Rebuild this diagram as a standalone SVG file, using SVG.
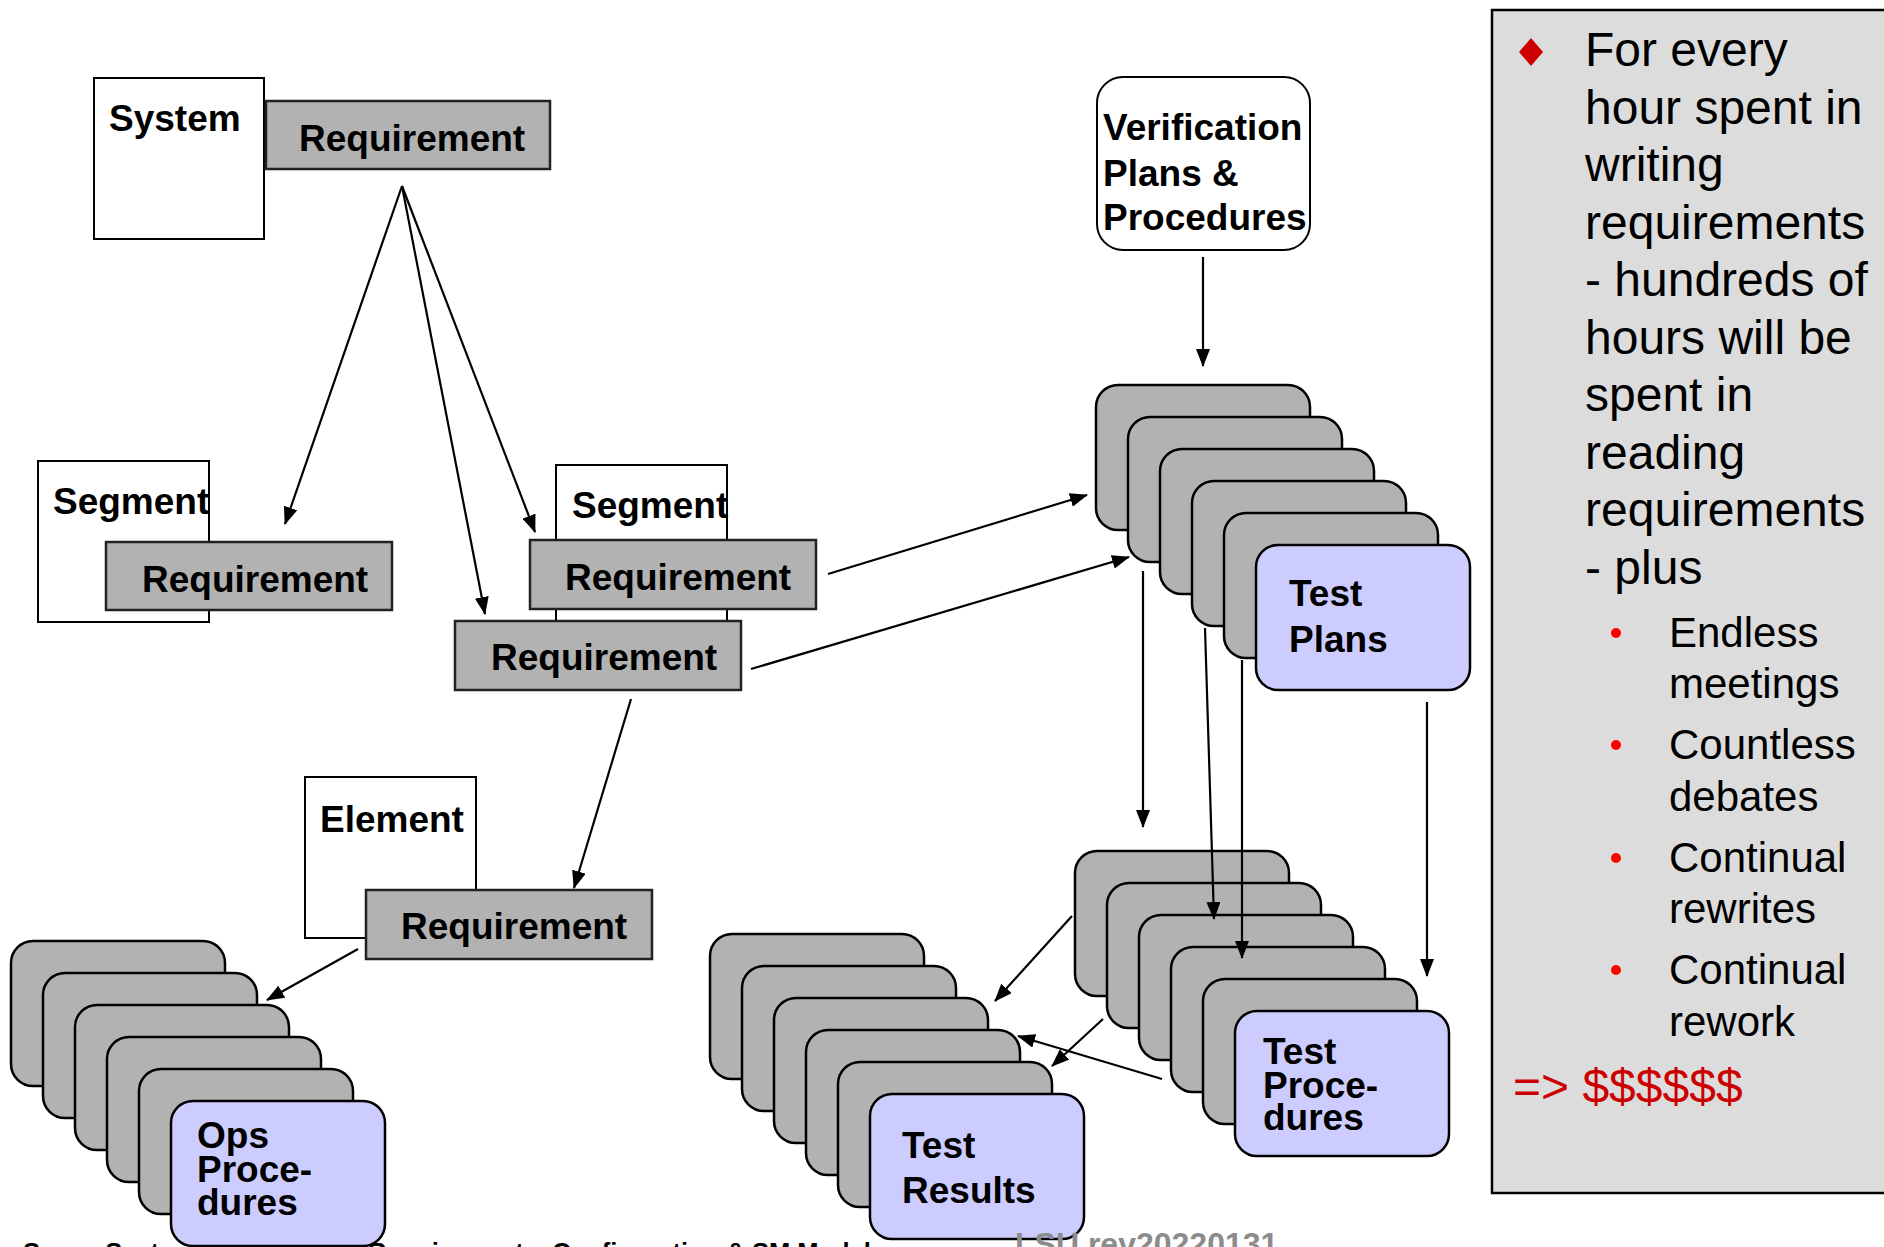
<svg xmlns="http://www.w3.org/2000/svg" width="1884" height="1247" viewBox="0 0 1884 1247">
<defs>
<style>
.lbl{font-family:"Liberation Sans",Arial,sans-serif;font-weight:bold;font-size:37px;fill:#000}
.wbox{fill:#fff;stroke:#000;stroke-width:2}
.req{fill:#b2b2b2;stroke:#222;stroke-width:2.5}
.card{fill:#b2b2b2;stroke:#000;stroke-width:2.5}
.blue{fill:#ccccff;stroke:#000;stroke-width:2.5}
.con{stroke:#000;stroke-width:2.2;fill:none;marker-end:url(#ah)}
.pt{font-family:"Liberation Sans",Arial,sans-serif;font-size:48px;fill:#000}
.st{font-family:"Liberation Sans",Arial,sans-serif;font-size:42px;fill:#000}
</style>
<marker id="ah" viewBox="0 0 18 14" refX="17" refY="7" markerWidth="18" markerHeight="14" markerUnits="userSpaceOnUse" orient="auto">
<path d="M0,0 L18,7 L0,14 z" fill="#000"/>
</marker>
</defs>
<rect width="1884" height="1247" fill="#fff"/>

<text id="footer" x="23" y="1261" style="font-family:'Liberation Sans',Arial,sans-serif;font-weight:bold;font-size:25.5px;fill:#000">Space Systems<tspan x="368">Requirements, Configuration &amp; SM Models</tspan></text>

<g id="panel">
<rect x="1492" y="10" width="410" height="1183" fill="#dcdcdc" stroke="#000" stroke-width="2.5"/>
<path d="M1531,38 L1543,52 L1531,66 L1519,52 z" fill="#cc0000"/>
<text class="pt" x="1585"><tspan x="1585" y="66">For every</tspan><tspan x="1585" y="124">hour spent in</tspan><tspan x="1585" y="181">writing</tspan><tspan x="1585" y="239">requirements</tspan><tspan x="1585" y="296">- hundreds of</tspan><tspan x="1585" y="354">hours will be</tspan><tspan x="1585" y="411">spent in</tspan><tspan x="1585" y="469">reading</tspan><tspan x="1585" y="526">requirements</tspan><tspan x="1585" y="584">- plus</tspan></text>
<circle cx="1616" cy="633" r="5" fill="#ff0000"/>
<circle cx="1616" cy="745" r="5" fill="#ff0000"/>
<circle cx="1616" cy="858" r="5" fill="#ff0000"/>
<circle cx="1616" cy="970" r="5" fill="#ff0000"/>
<text class="st"><tspan x="1669" y="647">Endless</tspan><tspan x="1669" y="698">meetings</tspan><tspan x="1669" y="759">Countless</tspan><tspan x="1669" y="811">debates</tspan><tspan x="1669" y="872">Continual</tspan><tspan x="1669" y="923">rewrites</tspan><tspan x="1669" y="984">Continual</tspan><tspan x="1669" y="1036">rework</tspan></text>
<text x="1513" y="1103" style="font-family:'Liberation Sans',Arial,sans-serif;font-size:48px;fill:#cc0000">=&gt; $$$$$$</text>
</g>

<g id="system">
<rect class="wbox" x="94" y="78" width="170" height="161"/>
<text class="lbl" x="109" y="131">System</text>
</g>
<g id="system-req">
<rect class="req" x="266" y="101" width="284" height="68"/>
<text class="lbl" x="299" y="151">Requirement</text>
</g>

<g id="segment-left">
<rect class="wbox" x="38" y="461" width="171" height="161"/>
<text class="lbl" x="53" y="514">Segment</text>
</g>
<g id="segment-left-req">
<rect class="req" x="106" y="542" width="286" height="68"/>
<text class="lbl" x="142" y="592">Requirement</text>
</g>

<g id="segment-right">
<rect class="wbox" x="556" y="465" width="171" height="161"/>
<text class="lbl" x="572" y="518">Segment</text>
</g>
<g id="segment-right-req">
<rect class="req" x="530" y="540" width="286" height="69"/>
<text class="lbl" x="565" y="590">Requirement</text>
</g>
<g id="segment-right-req2">
<rect class="req" x="455" y="621" width="286" height="69"/>
<text class="lbl" x="491" y="670">Requirement</text>
</g>

<g id="element">
<rect class="wbox" x="305" y="777" width="171" height="161"/>
<text class="lbl" x="320" y="832">Element</text>
</g>
<g id="element-req">
<rect class="req" x="366" y="890" width="286" height="69"/>
<text class="lbl" x="401" y="939">Requirement</text>
</g>

<g id="verification">
<rect x="1097" y="77" width="213" height="173" rx="26" fill="#fff" stroke="#000" stroke-width="2"/>
<text class="lbl"><tspan x="1103" y="140">Verification</tspan><tspan x="1103" y="186">Plans &amp;</tspan><tspan x="1103" y="230">Procedures</tspan></text>
</g>

<g id="test-plans">
<rect class="card" x="1096" y="385" width="214" height="145" rx="22"/>
<rect class="card" x="1128" y="417" width="214" height="145" rx="22"/>
<rect class="card" x="1160" y="449" width="214" height="145" rx="22"/>
<rect class="card" x="1192" y="481" width="214" height="145" rx="22"/>
<rect class="card" x="1224" y="513" width="214" height="145" rx="22"/>
<rect class="blue" x="1256" y="545" width="214" height="145" rx="22"/>
<text class="lbl"><tspan x="1289" y="606">Test</tspan><tspan x="1289" y="652">Plans</tspan></text>
</g>

<g id="test-procedures">
<rect class="card" x="1075" y="851" width="214" height="145" rx="22"/>
<rect class="card" x="1107" y="883" width="214" height="145" rx="22"/>
<rect class="card" x="1139" y="915" width="214" height="145" rx="22"/>
<rect class="card" x="1171" y="947" width="214" height="145" rx="22"/>
<rect class="card" x="1203" y="979" width="214" height="145" rx="22"/>
<rect class="blue" x="1235" y="1011" width="214" height="145" rx="22"/>
<text class="lbl"><tspan x="1263" y="1064">Test</tspan><tspan x="1263" y="1098">Proce-</tspan><tspan x="1263" y="1130">dures</tspan></text>
</g>

<g id="test-results">
<rect class="card" x="710" y="934" width="214" height="145" rx="22"/>
<rect class="card" x="742" y="966" width="214" height="145" rx="22"/>
<rect class="card" x="774" y="998" width="214" height="145" rx="22"/>
<rect class="card" x="806" y="1030" width="214" height="145" rx="22"/>
<rect class="card" x="838" y="1062" width="214" height="145" rx="22"/>
<rect class="blue" x="870" y="1094" width="214" height="145" rx="22"/>
<text class="lbl"><tspan x="902" y="1158">Test</tspan><tspan x="902" y="1203">Results</tspan></text>
</g>

<g id="ops-procedures">
<rect class="card" x="11" y="941" width="214" height="145" rx="22"/>
<rect class="card" x="43" y="973" width="214" height="145" rx="22"/>
<rect class="card" x="75" y="1005" width="214" height="145" rx="22"/>
<rect class="card" x="107" y="1037" width="214" height="145" rx="22"/>
<rect class="card" x="139" y="1069" width="214" height="145" rx="22"/>
<rect class="blue" x="171" y="1101" width="214" height="145" rx="22"/>
<text class="lbl"><tspan x="197" y="1148">Ops</tspan><tspan x="197" y="1182">Proce-</tspan><tspan x="197" y="1215">dures</tspan></text>
</g>

<text id="rev" x="1015" y="1255" style="font-family:'Liberation Sans',Arial,sans-serif;font-weight:bold;font-size:32px;fill:#8c8c8c">LSU rev20220131</text>

<g id="connectors">
<line class="con" x1="402" y1="186" x2="285" y2="524"/>
<line class="con" x1="402" y1="186" x2="485" y2="614"/>
<line class="con" x1="402" y1="186" x2="535" y2="532"/>
<line class="con" x1="828" y1="574" x2="1087" y2="495"/>
<line class="con" x1="751" y1="669" x2="1129" y2="557"/>
<line class="con" x1="631" y1="699" x2="574" y2="888"/>
<line class="con" x1="358" y1="949" x2="267" y2="1000"/>
<line class="con" x1="1203" y1="257" x2="1203" y2="366"/>
<line class="con" x1="1143" y1="571" x2="1143" y2="827"/>
<line class="con" x1="1205" y1="628" x2="1214" y2="919"/>
<line class="con" x1="1242" y1="660" x2="1242" y2="958"/>
<line class="con" x1="1427" y1="702" x2="1427" y2="976"/>
<line class="con" x1="1072" y1="916" x2="995" y2="1001"/>
<line class="con" x1="1103" y1="1019" x2="1052" y2="1066"/>
<line class="con" x1="1162" y1="1079" x2="1018" y2="1036"/>
</g>
</svg>
